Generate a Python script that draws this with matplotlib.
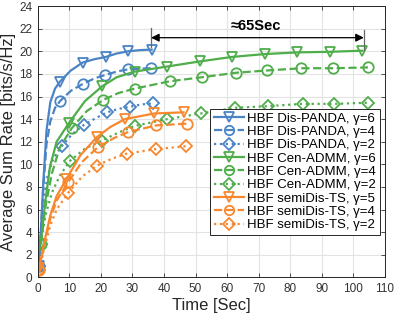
import matplotlib
matplotlib.use("Agg")
import matplotlib.pyplot as plt

plt.rcParams['font.family'] = ['Liberation Sans', 'DejaVu Sans']

BLUE = '#4a84c4'
GREEN = '#4fad4a'
ORANGE = '#f7882f'

# Dis-PANDA
dp6_x = [0.3, 1.0, 1.8, 2.8, 4.0, 5.5, 7.0, 10.5, 14.2, 18.0, 21.6, 25.0, 28.7, 32.5, 36.1]
dp6_y = [1.0, 4.0, 8.5, 13.0, 15.5, 16.7, 17.3, 18.3, 19.0, 19.3, 19.5, 19.8, 20.0, 20.1, 20.15]
dp4_x = [0.3, 1.0, 1.8, 2.8, 4.0, 5.5, 7.1, 10.5, 14.2, 18.0, 21.3, 25.0, 28.5, 32.0, 35.8]
dp4_y = [1.0, 4.0, 8.0, 11.8, 13.8, 15.0, 15.6, 16.5, 17.1, 17.6, 17.9, 18.2, 18.4, 18.45, 18.5]
dp2_x = [0.3, 1.0, 2.0, 3.0, 4.5, 6.0, 7.6, 11.0, 14.7, 18.5, 22.0, 25.5, 29.2, 33.0, 36.4]
dp2_y = [1.0, 3.5, 7.0, 8.8, 10.2, 11.0, 11.6, 12.7, 13.5, 14.1, 14.6, 14.9, 15.1, 15.3, 15.4]
dp_marks = [0, 6, 8, 10, 12, 14]

# Cen-ADMM
ca6_x = [1.0, 2.3, 3.9, 6.0, 10.0, 15.0, 20.4, 25.0, 30.7, 41.0, 51.3, 61.6, 71.9, 82.2, 92.5, 102.8]
ca6_y = [3.0, 6.5, 9.8, 12.0, 13.7, 15.6, 16.9, 17.7, 18.2, 18.65, 19.1, 19.5, 19.75, 19.9, 19.95, 20.05]
ca4_x = [1.0, 2.5, 4.5, 7.0, 10.8, 15.5, 20.8, 25.5, 30.8, 41.9, 52.0, 62.8, 72.7, 83.5, 93.5, 104.6]
ca4_y = [3.0, 6.3, 9.2, 11.5, 13.2, 14.7, 15.7, 16.3, 16.7, 17.35, 17.7, 18.1, 18.3, 18.5, 18.5, 18.57]
ca2_x = [1.0, 2.5, 4.5, 7.0, 10.2, 15.0, 20.3, 25.5, 30.8, 41.0, 51.7, 62.6, 73.1, 83.9, 94.0, 104.6]
ca2_y = [3.0, 5.5, 7.5, 9.0, 10.3, 11.4, 12.1, 12.8, 13.4, 14.0, 14.5, 15.0, 15.15, 15.35, 15.35, 15.45]
ca_marks = [0, 4, 6, 8, 9, 10, 11, 12, 13, 14, 15]

# semiDis-TS
sd5_x = [0.5, 2.0, 4.0, 6.0, 9.1, 13.5, 18.7, 23.0, 27.6, 36.9, 46.2]
sd5_y = [0.8, 3.0, 5.5, 7.2, 8.7, 10.8, 12.4, 13.3, 14.0, 14.5, 14.6]
sd4_x = [0.5, 2.0, 4.0, 6.0, 9.6, 14.0, 19.0, 24.0, 28.6, 37.6, 47.4]
sd4_y = [0.7, 2.8, 5.2, 6.8, 8.4, 10.2, 11.5, 12.3, 12.85, 13.45, 13.6]
sd2_x = [0.5, 2.0, 4.0, 6.0, 9.7, 14.0, 18.8, 23.5, 28.2, 37.4, 46.9]
sd2_y = [0.7, 2.5, 4.6, 6.0, 7.5, 8.9, 9.9, 10.5, 10.95, 11.35, 11.6]
sd_marks = [0, 4, 6, 8, 9, 10]

labels = ['HBF Dis-PANDA, \u03b3=6', 'HBF Dis-PANDA, \u03b3=4', 'HBF Dis-PANDA, \u03b3=2',
          'HBF Cen-ADMM, \u03b3=6', 'HBF Cen-ADMM, \u03b3=4', 'HBF Cen-ADMM, \u03b3=2',
          'HBF semiDis-TS, \u03b3=5', 'HBF semiDis-TS, \u03b3=4', 'HBF semiDis-TS, \u03b3=2']

xticks = list(range(0, 111, 10))
yticks = list(range(0, 25, 2))

fig = plt.figure(figsize=(3.95, 3.18), dpi=100)
ax = fig.add_axes([0.0954, 0.1274, 0.8793, 0.8537])

series = [
    (dp6_x, dp6_y, BLUE, '-', 'v', dp_marks, 7.5),
    (dp4_x, dp4_y, BLUE, '--', 'o', dp_marks, 7.5),
    (dp2_x, dp2_y, BLUE, ':', 'D', dp_marks, 6.3),
    (ca6_x, ca6_y, GREEN, '-', 'v', ca_marks, 7.5),
    (ca4_x, ca4_y, GREEN, '--', 'o', ca_marks, 7.5),
    (ca2_x, ca2_y, GREEN, ':', 'D', ca_marks, 6.3),
    (sd5_x, sd5_y, ORANGE, '-', 'v', sd_marks, 7.5),
    (sd4_x, sd4_y, ORANGE, '--', 'o', sd_marks, 7.5),
    (sd2_x, sd2_y, ORANGE, ':', 'D', sd_marks, 6.3),
]
for (x, y, c, ls, m, mk, ms), lab in zip(series, labels):
    ax.plot(x, y, color=c, linestyle=ls, marker=m, markevery=mk, markersize=ms,
            markerfacecolor='none', markeredgewidth=1.3, linewidth=1.6, label=lab)

# annotation
ax.plot([35.9, 35.9], [20.4, 22.05], color='#666666', linewidth=0.9)
ax.plot([103.3, 103.3], [20.1, 21.9], color='#666666', linewidth=0.9)
ax.annotate('', xy=(35.9, 21.2), xytext=(103.3, 21.2),
            arrowprops=dict(arrowstyle='<|-|>', color='black', linewidth=0.9,
                            mutation_scale=12, shrinkA=0, shrinkB=0))
ax.text(69, 22.2, '\u224865Sec', fontsize=10.5, fontweight='bold', ha='center', va='center',
        family=['Liberation Sans', 'DejaVu Sans'])

ax.set_xlim(0, 110)
ax.set_ylim(0, 24)
ax.set_xticks(xticks)
ax.set_yticks(yticks)
ax.grid(True, color='#e3e3e3', linewidth=0.8)
ax.set_axisbelow(True)
ax.tick_params(direction='in', length=3, width=0.6, top=True, right=True,
               labelsize=8.5, colors='#333333', pad=4)
for s in ax.spines.values():
    s.set_color('#262626')
    s.set_linewidth(0.7)
ax.set_xlabel('Time [Sec]', fontsize=12, color='#262626', labelpad=2)
ax.set_ylabel('Average Sum Rate [bits/s/Hz]', fontsize=12, color='#262626', labelpad=2)

leg = ax.legend(loc='upper left', bbox_to_anchor=(0.496, 0.622), fontsize=9.5,
                handlelength=2.3, labelspacing=0.08, borderpad=0.3, handletextpad=0.2,
                borderaxespad=0, fancybox=False, framealpha=1, edgecolor='#262626',
                markerscale=0.9)
leg.get_frame().set_linewidth(0.7)

fig.savefig('out.png', dpi=100)
